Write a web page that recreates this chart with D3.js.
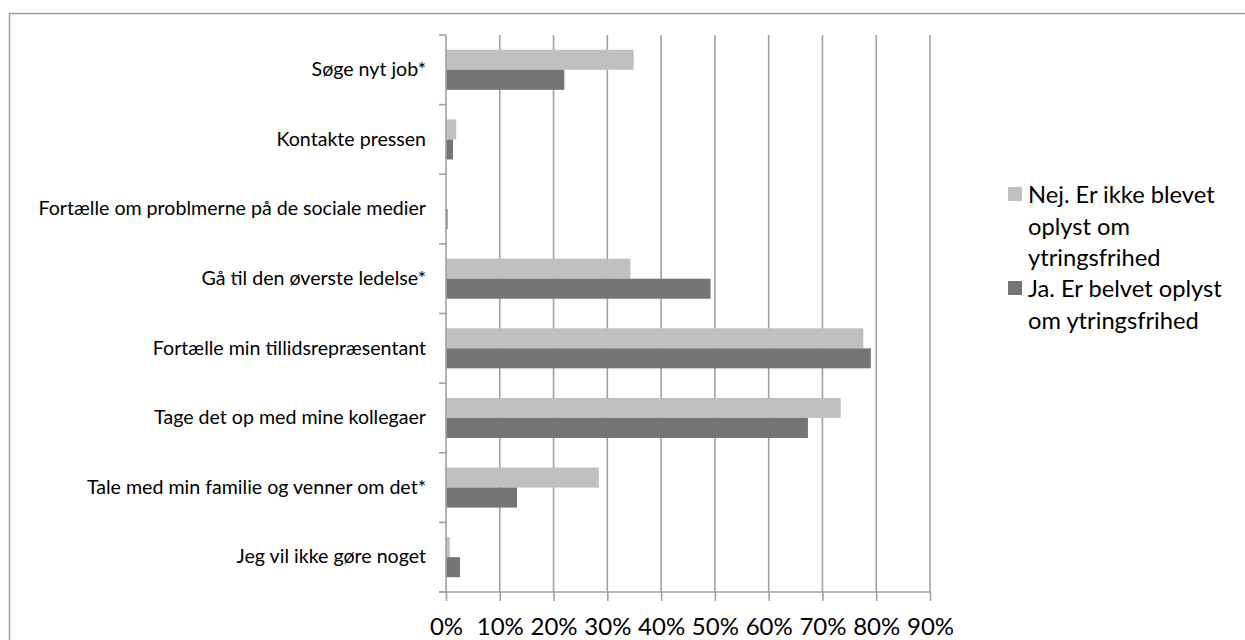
<!DOCTYPE html>
<html>
<head>
<meta charset="utf-8">
<script src="https://cdn.jsdelivr.net/npm/d3@7"></script>
<style>
  html, body { margin: 0; padding: 0; background: #fff; }
  svg { display: block; }
  text { font-family: Lato, "Open Sans", sans-serif; fill: #000; }
</style>
</head>
<body>
<svg id="chart" width="1245" height="640"></svg>
<script>
const categories = [
  "Søge nyt job*",
  "Kontakte pressen",
  "Fortælle om problmerne på de sociale medier",
  "Gå til den øverste ledelse*",
  "Fortælle min tillidsrepræsentant",
  "Tage det op med mine kollegaer",
  "Tale med min familie og venner om det*",
  "Jeg vil ikke gøre noget"
];
const seriesNames = [
  "Nej. Er ikke blevet oplyst om ytringsfrihed",
  "Ja. Er belvet oplyst om ytringsfrihed"
];
const legendLines = [
  ["Nej. Er ikke blevet", "oplyst om", "ytringsfrihed"],
  ["Ja. Er belvet oplyst", "om ytringsfrihed"]
];
const nejValues = [34.9, 1.9, 0.0, 34.3, 77.6, 73.4, 28.4, 0.7];
const jaValues  = [22.0, 1.3, 0.3, 49.2, 79.0, 67.3, 13.2, 2.6];
const xTicks = [0, 10, 20, 30, 40, 50, 60, 70, 80, 90];
const colors = ["#c0c0c0", "#757575"];

const svg = d3.select("#chart");

// outer frame
svg.append("rect")
  .attr("x", 9.5).attr("y", 13.5)
  .attr("width", 1260).attr("height", 640)
  .attr("fill", "none").attr("stroke", "#9a9a9a").attr("stroke-width", 1.5);

const plotL = 446, plotR = 930, plotT = 35, plotB = 592;

const x = d3.scaleLinear().domain([0, 90]).range([plotL, plotR]);
const y = d3.scaleBand().domain(categories).range([plotT, plotB])
  .paddingInner(0.425).paddingOuter(0.2125);
const ySub = d3.scaleBand().domain([0, 1]).range([0, y.bandwidth()]);

// gridlines
svg.append("g").selectAll("line").data(xTicks.slice(1)).join("line")
  .attr("x1", d => x(d)).attr("x2", d => x(d))
  .attr("y1", plotT).attr("y2", plotB)
  .attr("stroke", "#a0a0a0").attr("stroke-width", 1.6);

// bars
const data = categories.map((c, i) => ({ c, v: [nejValues[i], jaValues[i]] }));
const groups = svg.append("g").selectAll("g").data(data).join("g")
  .attr("transform", d => `translate(0,${y(d.c)})`);
groups.selectAll("rect").data(d => d.v.map((v, k) => ({ v, k }))).join("rect")
  .attr("x", x(0))
  .attr("y", d => ySub(d.k))
  .attr("width", d => x(d.v) - x(0))
  .attr("height", ySub.bandwidth())
  .attr("fill", d => colors[d.k]);

// x axis
const xAxis = d3.axisBottom(x).tickValues(xTicks).tickSize(9).tickSizeOuter(0)
  .tickFormat(d => d + "%");
const gx = svg.append("g").attr("transform", `translate(0,${plotB})`).call(xAxis);
gx.select(".domain").attr("stroke", "#a0a0a0").attr("stroke-width", 1.6)
  .attr("d", `M${plotL - 7},0H${plotR}`);
gx.selectAll(".tick line").attr("stroke", "#a0a0a0").attr("stroke-width", 1.6);
gx.selectAll(".tick text").attr("y", 43).attr("dy", null)
  .style("font-size", "24px").style("font-family", "Lato, sans-serif").attr("fill", "#000");

// y axis
const yAxis = d3.axisLeft(y).tickSize(0).tickPadding(20);
const gy = svg.append("g").attr("transform", `translate(${plotL},0)`).call(yAxis);
gy.select(".domain").attr("stroke", "#a0a0a0").attr("stroke-width", 1.6)
  .attr("d", `M0,${plotT}V${plotB}`);
gy.selectAll(".tick text").style("font-size", "19.6px")
  .style("font-family", "Lato, sans-serif").attr("fill", "#000");
// boundary ticks between categories
const bounds = d3.range(categories.length + 1).map(i => plotT + i * y.step());
gy.append("g").selectAll("line").data(bounds).join("line")
  .attr("x1", -7).attr("x2", 0)
  .attr("y1", d => d).attr("y2", d => d)
  .attr("stroke", "#a0a0a0").attr("stroke-width", 1.6);

// legend
const legend = svg.append("g").attr("transform", "translate(1008,0)");
const baselines = [[203, 234.5, 266], [297, 328.5]];
legendLines.forEach((lines, k) => {
  legend.append("rect")
    .attr("x", 0).attr("y", baselines[k][0] - 16)
    .attr("width", 14).attr("height", 14)
    .attr("fill", colors[k]);
  lines.forEach((t, j) => {
    legend.append("text")
      .attr("x", 20).attr("y", baselines[k][j])
      .style("font-size", "23.7px")
      .text(t);
  });
});
</script>
</body>
</html>
